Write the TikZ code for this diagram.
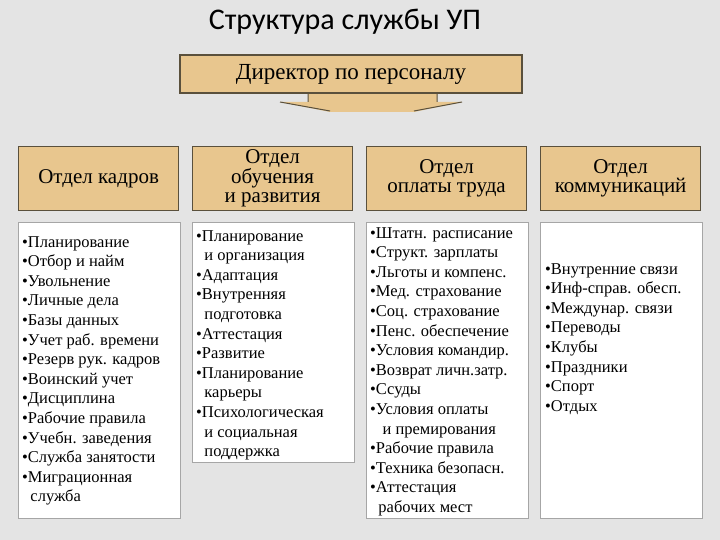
\documentclass[tikz,border=0pt]{standalone}
\usepackage{fontspec}
\setmainfont{Liberation Serif}
\newfontfamily\titlefont{Carlito}
\definecolor{bgc}{RGB}{228,228,228}
\definecolor{tan}{RGB}{232,198,142}
\definecolor{shd}{RGB}{90,80,60}
\begin{document}
\begin{tikzpicture}[x=1pt,y=-1pt,
  hdr/.style={draw=shd,line width=1.2pt,fill=tan,minimum width=160pt,minimum height=64pt,anchor=north west,align=center,font=\fontsize{21}{19}\selectfont,inner sep=0pt},
  body/.style={draw=gray!70,fill=white,line width=0.8pt,anchor=north west,inner sep=0pt},
  txt/.style={anchor=north west,align=left,font=\fontsize{16.5}{19.6}\selectfont,inner sep=0pt}]
\fill[bgc] (0,0) rectangle (720,540);
\useasboundingbox (0,0) rectangle (720,540);
\node[font=\titlefont\fontsize{30}{32}\selectfont] (title) at (345,22) {Структура службы УП};
% director
\fill[tan] (308,92) -- (308,102) -- (280,102) -- (330,112) -- (414,112) -- (462,102) -- (437,102) -- (437,92) -- cycle;
\draw[shd,line width=1pt] (280,102) -- (330,111) (414,111) -- (462,102) (308,94) -- (308,102) (437,94) -- (437,102);
\node[draw=shd,line width=1.2pt,fill=tan,minimum width=342pt,minimum height=38pt,font=\fontsize{23}{24}\selectfont,inner sep=0pt] (dir) at (351,74) {Директор по персоналу};
% headers
\node[hdr] (h1) at (18,146) {Отдел кадров};
\node[hdr] (h2) at (192,146) {Отдел\\обучения\\и развития};
\node[hdr] (h3) at (366,146) {Отдел\\оплаты труда};
\node[hdr] (h4) at (540,146) {Отдел\\коммуникаций};
% bodies
\node[body,minimum width=162pt,minimum height=296pt] (b1) at (18,222) {};
\node[body,minimum width=162pt,minimum height=240pt] (b2) at (192,222) {};
\node[body,minimum width=162pt,minimum height=296pt] (b3) at (366,222) {};
\node[body,minimum width=162pt,minimum height=296pt] (b4) at (540,222) {};
\node[txt] (t1) at (22,236) {•Планирование\\•Отбор и найм\\•Увольнение\\•Личные дела\\•Базы данных\\•Учет раб. времени\\•Резерв рук. кадров\\•Воинский учет\\•Дисциплина\\•Рабочие правила\\•Учебн. заведения\\•Служба занятости\\•Миграционная\\\ \ служба};
\node[txt] (t2) at (196,230) {•Планирование\\\ \ и организация\\•Адаптация\\•Внутренняя\\\ \ подготовка\\•Аттестация\\•Развитие\\•Планирование\\\ \ карьеры\\•Психологическая\\\ \ и социальная\\\ \ поддержка};
\node[txt] (t3) at (370,227) {•Штатн. расписание\\•Структ. зарплаты\\•Льготы и компенс.\\•Мед. страхование\\•Соц. страхование\\•Пенс. обеспечение\\•Условия командир.\\•Возврат личн.затр.\\•Ссуды\\•Условия оплаты\\\ \ \ и премирования\\•Рабочие правила\\•Техника безопасн.\\•Аттестация\\\ \ рабочих мест};
\node[txt] (t4) at (545,263) {•Внутренние связи\\•Инф-справ. обесп.\\•Междунар. связи\\•Переводы\\•Клубы\\•Праздники\\•Спорт\\•Отдых};
\end{tikzpicture}
\end{document}
